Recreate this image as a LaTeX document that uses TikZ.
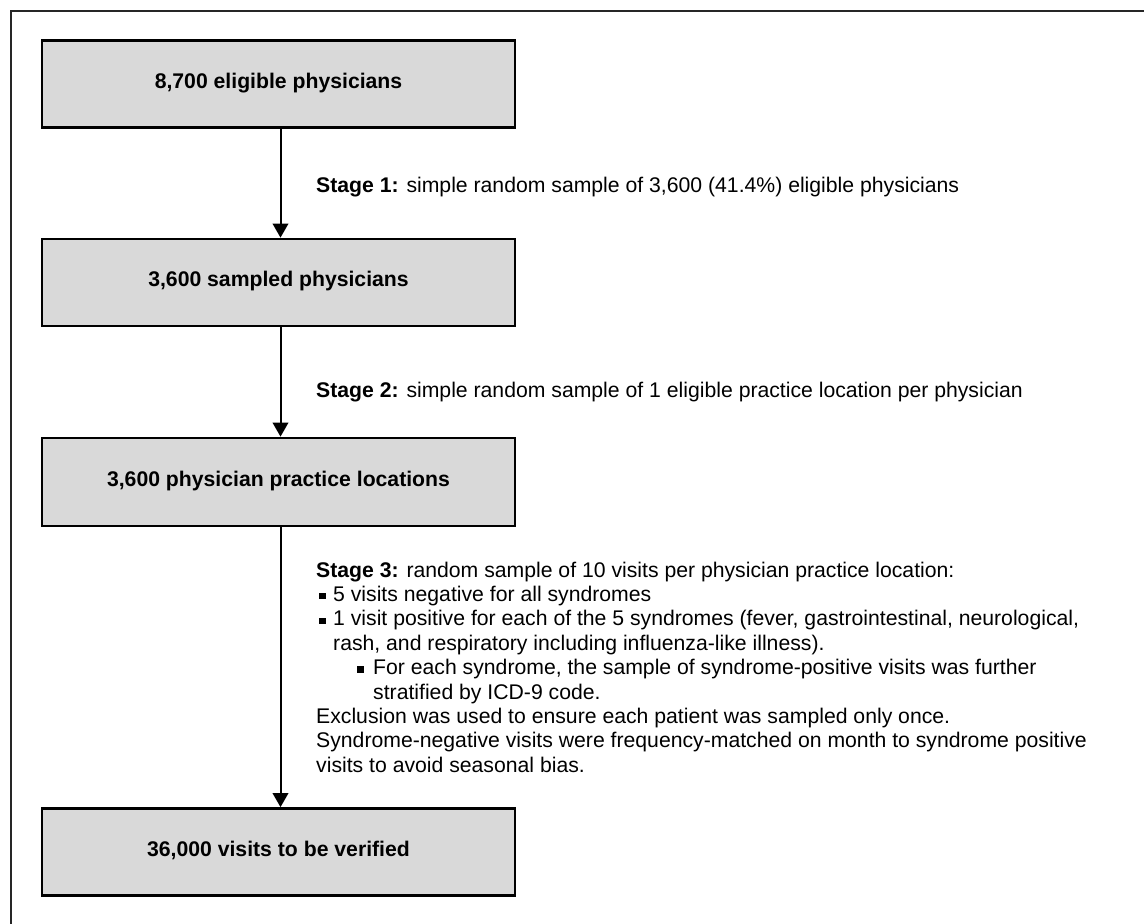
\documentclass[tikz,border=0pt]{standalone}
\usepackage{fontspec}
\setmainfont{Liberation Sans}
\usetikzlibrary{arrows.meta}
\definecolor{boxgray}{HTML}{D9D9D9}
\newcommand{\sqbul}{\rule[2pt]{6.3pt}{6.3pt}}
\begin{document}
\begin{tikzpicture}[x=1pt,y=-1pt,
  every node/.style={font=\fontsize{21.2pt}{24.4pt}\selectfont},
  stagebox/.style={draw=black, line width=2.7pt, fill=boxgray,
    minimum width=473pt, minimum height=87pt, inner sep=0pt,
    text height=15pt, text depth=7pt,
    font=\fontsize{21.2pt}{24.4pt}\selectfont\bfseries},
  flow/.style={line width=2pt, -{Triangle[width=15.5pt,length=14pt]}},
  note/.style={anchor=base west, inner sep=0pt},
]
\useasboundingbox (0,0) rectangle (1144,924);

% frame
\draw[line width=2pt, draw=black!85] (11,924) -- (11,11) -- (1144,11);

% stages of the sample
\node[stagebox] (b1) at (278.5,84)  {8,700 eligible physicians};
\node[stagebox] (b2) at (278.5,282.5) {3,600 sampled physicians};
\node[stagebox, minimum height=88pt] (b3) at (278.5,482) {3,600 physician practice locations};
\node[stagebox] (b4) at (278.5,852) {36,000 visits to be verified};

% connectors
\draw[flow] ([xshift=2pt]b1.south) -- ([xshift=2pt]b2.north);
\draw[flow] ([xshift=2pt]b2.south) -- ([xshift=2pt]b3.north);
\draw[flow] ([xshift=2pt]b3.south) -- ([xshift=2pt]b4.north);

% sampling descriptions
\node[note] (st1) at (316,192) {\textbf{Stage 1:} simple random sample of 3,600 (41.4\%) eligible physicians};
\node[note] (st2) at (316,397) {\textbf{Stage 2:} simple random sample of 1 eligible practice location per physician};

\node[note] (s3a) at (316,577)   {\textbf{Stage 3:} random sample of 10 visits per physician practice location:};
\node[note] (s3b) at (319,601.4) {\makebox[14pt][l]{\sqbul}5 visits negative for all syndromes};
\node[note] (s3c) at (319,625.8) {\makebox[14pt][l]{\sqbul}1 visit positive for each of the 5 syndromes (fever, gastrointestinal, neurological,};
\node[note] (s3d) at (333,650.2) {rash, and respiratory including influenza-like illness).};
\node[note] (s3e) at (357,674.6) {\makebox[16pt][l]{\sqbul}For each syndrome, the sample of syndrome-positive visits was further};
\node[note] (s3f) at (373,699)   {stratified by ICD-9 code.};
\node[note] (s3g) at (316,723.4) {Exclusion was used to ensure each patient was sampled only once.};
\node[note] (s3h) at (316,747.8) {Syndrome-negative visits were frequency-matched on month to syndrome positive};
\node[note] (s3i) at (316,772.2) {visits to avoid seasonal bias.};
\end{tikzpicture}
\end{document}
